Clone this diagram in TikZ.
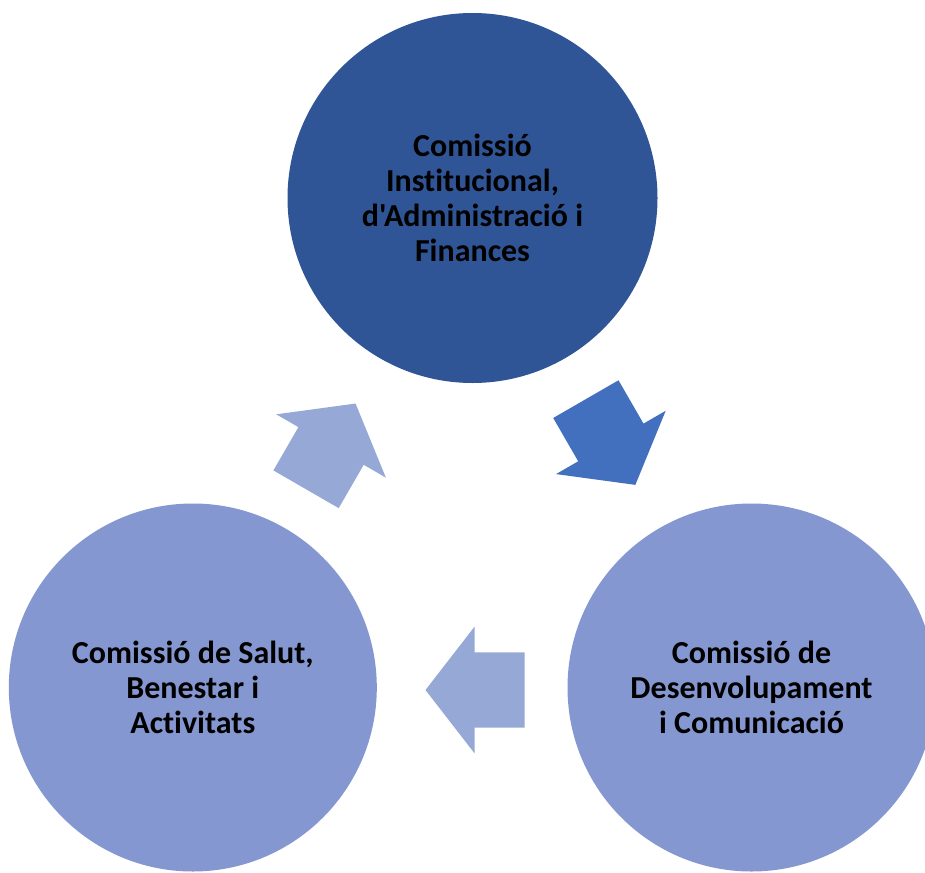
\documentclass[tikz,border=0pt]{standalone}
\usepackage{fontspec}
\setmainfont{Carlito}[Ligatures={CommonOff,TeXOff}]
\newcommand\noti{t\kern0pt i}
\definecolor{darkcirc}{HTML}{2F5597}
\definecolor{lightcirc}{HTML}{8497D0}
\definecolor{darkarr}{HTML}{4370BE}
\definecolor{lightarr}{HTML}{95A8D6}
\tikzset{
  circ/.style={circle, minimum size=370pt, inner sep=0pt, align=center, text=black,
    font=\bfseries\fontsize{32}{34.8}\selectfont},
  blockarr/.pic={
    \fill[pic actions] (-49.5,-37.7) -- (0.5,-37.7) -- (0.5,-63.3) -- (49.5,0)
      -- (0.5,63.3) -- (0.5,37.7) -- (-49.5,37.7) -- cycle;
  }
}
\begin{document}
\begin{tikzpicture}[x=1pt,y=-1pt]
\useasboundingbox (0,0) rectangle (925,872);
\node[circ, fill=darkcirc] (top) at (472.5,198)
  {Comissió\\Ins\noti tucional,\\d'Administració i\\Finances};
\node[circ, fill=lightcirc, minimum size=368pt] (left) at (192.8,687.5)
  {Comissió de Salut,\\Benestar i\\Ac\noti vitats};
\node[circ, fill=lightcirc, minimum size=368pt] (right) at (751.5,687.5)
  {Comissió de\\Desenvolupament\\i Comunicació};
\pic[fill=darkarr, rotate=-60] (a1) at (610.6,442) {blockarr};
\pic[fill=lightarr, rotate=180] (a2) at (475,690) {blockarr};
\pic[fill=lightarr, rotate=60] (a3) at (330.8,446.4) {blockarr};
\end{tikzpicture}
\end{document}
